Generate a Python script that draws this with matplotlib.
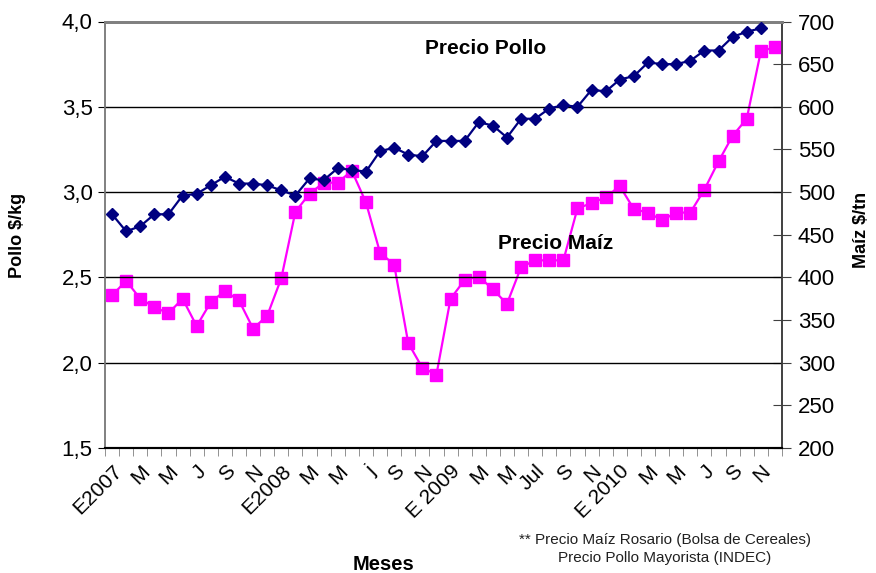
import matplotlib
matplotlib.use("Agg")
import matplotlib.pyplot as plt
from matplotlib.ticker import FixedLocator, FuncFormatter

plt.rcParams['font.family'] = ['Liberation Sans', 'DejaVu Sans']

months = list(range(48))
tick_labels = ["E2007", "M", "M", "J", "S", "N", "E2008", "M", "M", "j", "S", "N",
               "E 2009", "M", "M", "Jul", "S", "N", "E 2010", "M", "M", "J", "S", "N"]

pollo = [2.87, 2.77, 2.80, 2.87, 2.87, 2.98, 2.99, 3.04, 3.09, 3.05, 3.05, 3.04,
         3.01, 2.98, 3.08, 3.07, 3.14, 3.13, 3.12, 3.24, 3.26, 3.22, 3.21, 3.30,
         3.30, 3.30, 3.41, 3.39, 3.32, 3.43, 3.43, 3.49, 3.51, 3.50, 3.60, 3.59,
         3.66, 3.68, 3.76, 3.75, 3.75, 3.77, 3.83, 3.83, 3.91, 3.94, 3.96]

maiz = [379, 396, 375, 365, 358, 375, 343, 371, 384, 373, 340, 355,
        399, 477, 498, 511, 511, 525, 488, 429, 415, 323, 294, 286,
        375, 397, 401, 386, 369, 412, 420, 420, 420, 481, 487, 494,
        507, 480, 476, 467, 476, 476, 503, 536, 566, 586, 665, 670]

fig = plt.figure(figsize=(8.76, 5.73), dpi=100)
ax = fig.add_axes([105/876, 1-448/573, (782-105)/876, (448-21.5)/573])
ax2 = ax.twinx()

ax.set_xlim(-0.5, 47.5)
ax.set_ylim(1.5, 4.0)
ax2.set_ylim(200, 700)

# gridlines
for v in [2.0, 2.5, 3.0, 3.5]:
    ax.axhline(v, color='black', lw=1.0, zorder=0)

ax2.plot(months[:len(maiz)], maiz, color='#FF00FF', lw=1.6, marker='s',
         markersize=9, markeredgecolor='#FF00FF', zorder=3)
ax.plot(months[:len(pollo)], pollo, color='#000080', lw=1.6, marker='D',
        markersize=6.5, zorder=4)
ax.set_zorder(ax2.get_zorder() + 1)
ax.patch.set_visible(False)

# ticks
ax.set_yticks([1.5, 2.0, 2.5, 3.0, 3.5, 4.0])
ax.yaxis.set_major_formatter(FuncFormatter(lambda v, p: f"{v:.1f}".replace('.', ',')))
ax.tick_params(axis='y', direction='out', length=5, labelsize=16, color='black', pad=4)
ax2.set_yticks(list(range(200, 701, 50)))
ax2.tick_params(axis='y', direction='inout', length=13, labelsize=16, pad=5, color='#404040')

ax.set_xticks([i for i in range(0, 48, 2)])
ax.set_xticklabels(tick_labels, rotation=45, ha='right', rotation_mode='anchor', fontsize=15)
ax.xaxis.set_minor_locator(FixedLocator([i - 0.5 for i in range(49)]))
ax.tick_params(axis='x', which='major', length=0, pad=10)
ax.tick_params(axis='x', which='minor', length=6, direction='out', color='#808080')

for a in (ax, ax2):
    a.spines['left'].set_color('#808080')
    a.spines['top'].set_color('#808080')
    a.spines['top'].set_linewidth(2)
    a.spines['bottom'].set_color('black')
    a.spines['bottom'].set_linewidth(1.5)
    a.spines['right'].set_color('#404040')
    a.spines['right'].set_linewidth(1.2)
    a.spines['left'].set_linewidth(1.2)

fig.text(18/876, 1-235/573, "Pollo $/kg", rotation=90, fontsize=13, fontweight='bold',
         ha='center', va='center')
fig.text(862/876, 1-230/573, "Maíz $/tn", rotation=90, fontsize=13, fontweight='bold',
         ha='center', va='center')
fig.text(384/876, 1-565/573, "Meses", fontsize=14.5, fontweight='bold', ha='center', va='center')

fig.text(486/876, 1-48/573, "Precio Pollo", fontsize=15, fontweight='bold', ha='center', va='center')
fig.text(556/876, 1-244/573, "Precio Maíz", fontsize=15, fontweight='bold', ha='center', va='center')

fig.text(665/876, 1-540/573, "** Precio Maíz Rosario (Bolsa de Cereales)", fontsize=11,
         ha='center', va='center', color='#202020')
fig.text(665/876, 1-558/573, "Precio Pollo Mayorista (INDEC)", fontsize=11,
         ha='center', va='center', color='#202020')

fig.savefig("out.png", dpi=100)
